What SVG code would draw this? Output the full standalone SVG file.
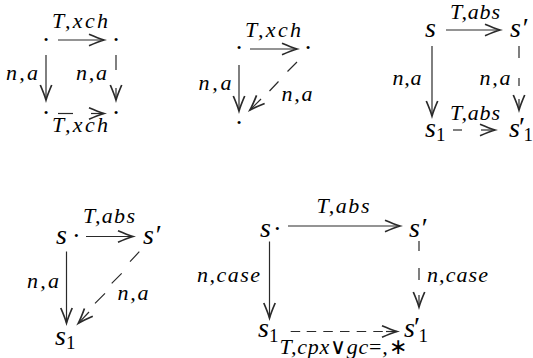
<svg xmlns="http://www.w3.org/2000/svg" width="533" height="358" viewBox="0 0 533 358">
<style>
text{font-family:"Liberation Serif","Times New Roman",serif;fill:#000}
.n{font-size:28px;font-style:italic}
.l{font-size:22px;font-style:italic}
.up{font-style:normal}
.sub{font-size:19px;font-style:normal}
.dot{font-size:26px;font-style:normal}
.c{fill:none;stroke:#2a2a2a;stroke-width:1.2}
.a{marker-end:url(#tip)}
.m{text-anchor:middle}
</style>
<defs>
<marker id="tip" markerUnits="userSpaceOnUse" orient="auto" refX="0" refY="0" markerWidth="20" markerHeight="20" viewBox="-12 -6 14 12" overflow="visible">
<path d="M-10.5,-4 Q-4,-1.2 0,0 Q-4,1.2 -10.5,4" fill="none" stroke="#2a2a2a" stroke-width="1.2"/>
</marker>
</defs>
<rect width="533" height="358" fill="#fff"/>

<g id="connectors">
<path class="c a" d="M58,40 L104,40"/>
<path class="c a" d="M46,55 L46,100"/>
<path class="c" d="M116,55 L116,70"/>
<path class="c a" d="M116,88 L116,100"/>
<path class="c" d="M58,113.5 L73,113.5"/>
<path class="c a" d="M91,113.5 L104,113.5"/>
<path class="c a" d="M250,49 L297,49"/>
<path class="c a" d="M239,65 L239,111"/>
<path class="c" d="M297,62 L287.5,71.5 M278.5,81.5 L269.5,91"/>
<path class="c a" d="M261,99 L250,110"/>
<path class="c a" d="M446,30 L500,30"/>
<path class="c a" d="M432,46 L432,116"/>
<path class="c" d="M519,46 L519,58 M519,78 L519,86"/>
<path class="c a" d="M519,99 L519,110"/>
<path class="c" d="M453,130 L462,130"/>
<path class="c a" d="M481,130 L495,130"/>
<path class="c a" d="M86,236.5 L133,236.5"/>
<path class="c a" d="M66.5,251.5 L66.5,323"/>
<path class="c" d="M139.3,251.7 L130,261.7 M121.7,273.3 L111.7,283.3 M105,293.3 L95,303.3"/>
<path class="c a" d="M89,312 L78.3,323.3"/>
<path class="c a" d="M288,226 L400,226"/>
<path class="c a" d="M269.5,241.5 L269.5,318"/>
<path class="c" d="M419,241 L419,251 M419,268 L419,280"/>
<path class="c a" d="M419,295 L419,307"/>
<path class="c" d="M290.7,331.5 L300.2,331.5 M306.7,331.5 L316.2,331.5 M323.3,331.5 L332.8,331.5 M340,331.5 L349.5,331.5 M356.7,331.5 L366.2,331.5 M373.3,331.5 L382.8,331.5"/>
<path class="c a" d="M386,331.5 L397,331.5"/>
</g>

<g id="labels">
<text class="l m" x="80" y="28" textLength="56">T,xch</text>
<text class="l m" x="22" y="80" textLength="32">n,a</text>
<text class="l m" x="91.5" y="80" textLength="31">n,a</text>
<text class="l m" x="80" y="132" textLength="56">T,xch</text>
<text class="l m" x="273" y="37" textLength="56">T,xch</text>
<text class="l m" x="215" y="90" textLength="33">n,a</text>
<text class="l m" x="297" y="101" textLength="31">n,a</text>
<text class="l m" x="475" y="18.5" textLength="50">T,abs</text>
<text class="l m" x="407" y="85" textLength="29">n,a</text>
<text class="l m" x="495" y="85" textLength="31">n,a</text>
<text class="l m" x="475" y="120" textLength="50">T,abs</text>
<text class="l m" x="109" y="223" textLength="52">T,abs</text>
<text class="l m" x="43" y="288" textLength="32">n,a</text>
<text class="l m" x="133" y="300" textLength="31">n,a</text>
<text class="l m" x="343" y="213" textLength="53">T,abs</text>
<text class="l" x="197" y="281.5" textLength="63">n,case</text>
<text class="l" x="427" y="281.5" textLength="61">n,case</text>
<text class="l m" x="343" y="354" textLength="127">T,cpx<tspan class="up">∨</tspan>gc<tspan class="up">=</tspan>,<tspan class="up">∗</tspan></text>
</g>

<g id="d1-tl"><text class="dot m" x="46" y="48">·</text></g>
<g id="d1-tr"><text class="dot m" x="116" y="48">·</text></g>
<g id="d1-bl"><text class="dot m" x="46" y="120.5">·</text></g>
<g id="d1-br"><text class="dot m" x="116" y="120.5">·</text></g>
<g id="d2-tl"><text class="dot m" x="239" y="55.5">·</text></g>
<g id="d2-tr"><text class="dot m" x="308" y="55.5">·</text></g>
<g id="d2-b"><text class="dot m" x="239" y="130.5">·</text></g>

<g id="d3-s"><text class="n" x="425" y="36.5">s</text></g>
<g id="d3-sp"><text class="n" x="510" y="36.5">s′</text></g>
<g id="d3-s1"><text class="n" x="425" y="136.5">s<tspan class="sub" dy="4">1</tspan></text></g>
<g id="d3-sp1"><text class="n" x="509" y="136.5">s<tspan class="up" x="519" dy="-1">′</tspan><tspan class="sub" x="523.5" dy="5">1</tspan></text></g>

<g id="d4-s"><text class="n" x="56" y="244">s<tspan class="dot" x="72">·</tspan></text></g>
<g id="d4-sp"><text class="n" x="143" y="244">s′</text></g>
<g id="d4-s1"><text class="n" x="55" y="345">s<tspan class="sub" dy="4">1</tspan></text></g>

<g id="d5-s"><text class="n" x="260" y="236.5">s<tspan class="dot" x="273">·</tspan></text></g>
<g id="d5-sp"><text class="n" x="409" y="236.5">s′</text></g>
<g id="d5-s1"><text class="n" x="258" y="336.5">s<tspan class="sub" dy="5">1</tspan></text></g>
<g id="d5-sp1"><text class="n" x="404" y="336.5">s<tspan class="up" x="414" dy="-1">′</tspan><tspan class="sub" x="418.5" dy="6">1</tspan></text></g>
</svg>
